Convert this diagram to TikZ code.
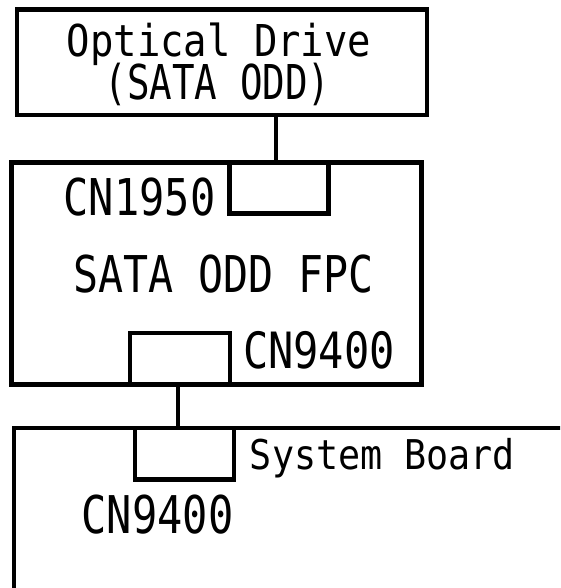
\documentclass[tikz,border=0pt]{standalone}
\usepackage{fontspec}
\usepackage{graphicx}
\newfontfamily\gfont{DejaVu Sans Mono}
\newcommand\lbl[3]{\scalebox{#1}[#2]{\gfont\fontsize{10}{12}\selectfont #3}}
\tikzset{
  box/.style={draw, line width=4.5pt, rectangle, inner sep=0pt, outer sep=0pt},
  wire/.style={line width=4.5pt},
  txt/.style={inner sep=0pt, anchor=base},
}
\begin{document}
\begin{tikzpicture}[x=1pt,y=-1pt]
\useasboundingbox (0,0) rectangle (560,588);
\clip (0,0) rectangle (560,588);
% boxes
\node[box, minimum width=410pt, minimum height=105.5pt] (odd) at (222,62.25) {};
\node[box, minimum width=410pt, minimum height=222pt] (fpc) at (216.5,273.5) {};
\node[box, minimum width=99pt, minimum height=51pt] (cA) at (279,188) {};
\node[box, minimum width=100pt, minimum height=51.5pt] (cB) at (180,358.75) {};
\node[box, minimum width=586pt, minimum height=192pt] (sys) at (307,524) {};
\node[box, minimum width=99pt, minimum height=51.5pt] (cC) at (184.5,453.75) {};
% connectors
\draw[wire] (odd.south -| 276,0) -- (cA.north -| 276,0);
\draw[wire] (cB.south -| 178,0) -- (cC.north -| 178,0);
% labels
\node[txt] (t1) at (219,57) {\lbl{3.89}{4.39}{Optical Drive}};
\node[txt] (t2) at (217.5,100) {\lbl{3.75}{4.8}{(SATA ODD)}};
\node[txt] (t3) at (139.5,215) {\lbl{4.2}{5.07}{CN1950}};
\node[txt] (t4) at (223.5,292) {\lbl{4.16}{5.07}{SATA ODD FPC}};
\node[txt] (t5) at (319,368) {\lbl{4.2}{5.0}{CN9400}};
\node[txt] (t6) at (382.5,469) {\lbl{3.67}{4.1}{System Board}};
\node[txt] (t7) at (157.5,533) {\lbl{4.2}{5.2}{CN9400}};
\end{tikzpicture}
\end{document}
